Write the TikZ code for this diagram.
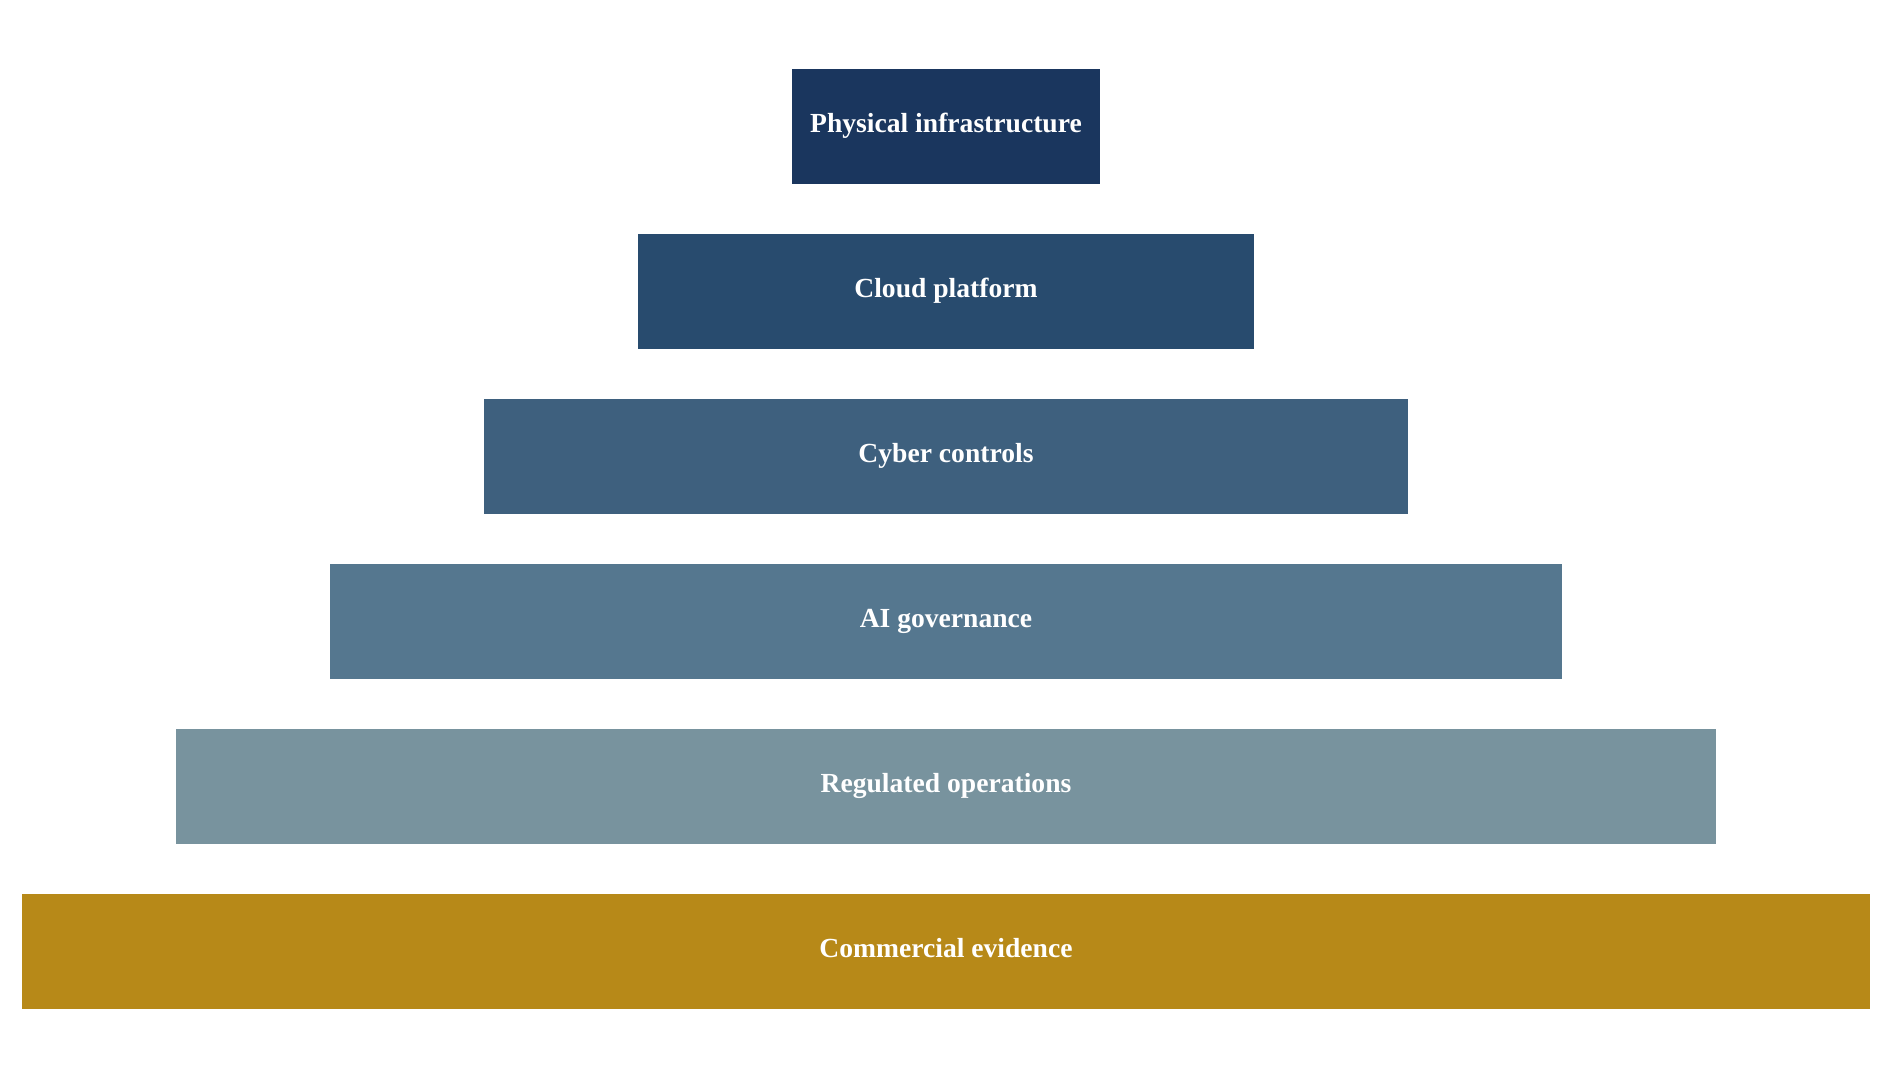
\documentclass[tikz,border=0pt]{standalone}
\usepackage{fontspec}
\setmainfont{Liberation Serif}
\definecolor{c1}{RGB}{26,54,94}
\definecolor{c2}{RGB}{40,75,110}
\definecolor{c3}{RGB}{62,96,126}
\definecolor{c4}{RGB}{85,119,143}
\definecolor{c5}{RGB}{120,147,158}
\definecolor{c6}{RGB}{183,137,24}
\tikzset{
  layerbox/.style={rectangle, inner sep=0pt, minimum height=114.7pt, text=white,
    text height=19pt, text depth=7.4pt,
    font=\fontsize{27.6}{33}\selectfont\bfseries}
}
\begin{document}
\begin{tikzpicture}[x=1pt,y=-1pt]
\useasboundingbox (0,0) rectangle (1892,1078);
\node[layerbox, fill=c1, minimum width=308pt]  (l1) at (946,126.4) {Physical infrastructure};
\node[layerbox, fill=c2, minimum width=616pt]  (l2) at (946,291.4) {Cloud platform};
\node[layerbox, fill=c3, minimum width=924pt]  (l3) at (946,456.4) {Cyber controls};
\node[layerbox, fill=c4, minimum width=1232pt] (l4) at (946,621.4) {AI governance};
\node[layerbox, fill=c5, minimum width=1540pt] (l5) at (946,786.4) {Regulated operations};
\node[layerbox, fill=c6, minimum width=1848pt] (l6) at (946,951.4) {Commercial evidence};
\end{tikzpicture}
\end{document}
